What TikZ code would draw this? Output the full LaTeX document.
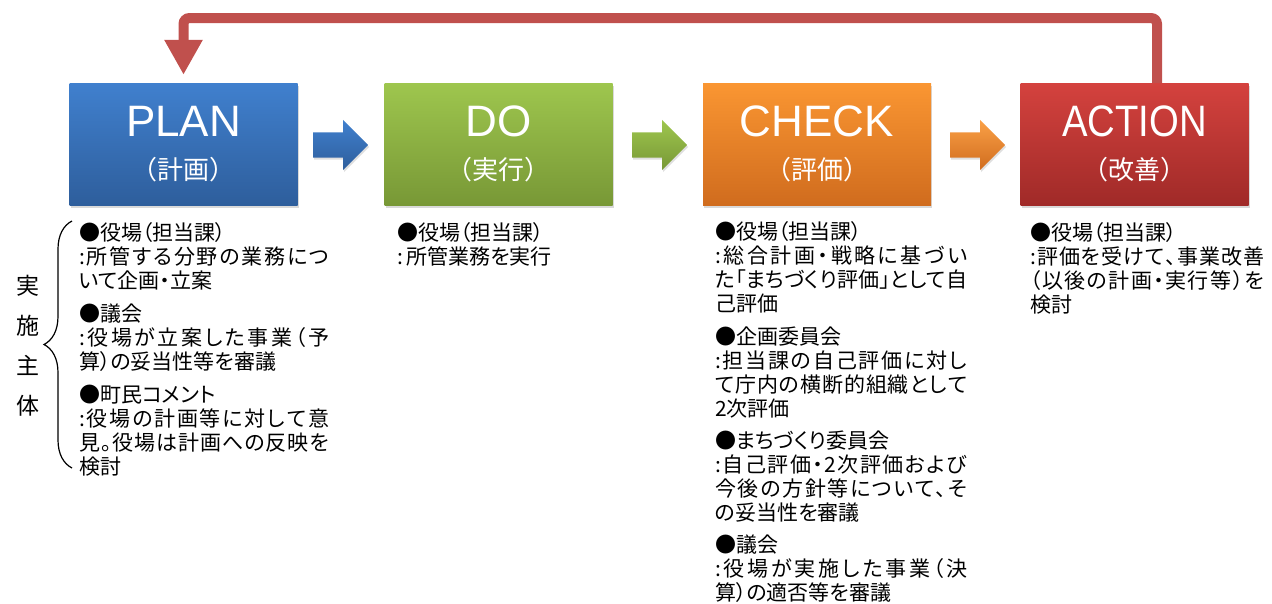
\documentclass[tikz,border=0pt]{standalone}
\usepackage{fontspec}
\setmainfont{Noto Sans CJK JP}
\newfontfamily\titlefont{Liberation Sans}
\newfontfamily\notefont{Noto Sans CJK JP}[RawFeature=+palt]
\usetikzlibrary{shapes.arrows,shadows,arrows.meta,decorations.pathreplacing}
\definecolor{plantop}{RGB}{64,128,206}
\definecolor{planbottom}{RGB}{46,94,156}
\definecolor{dotop}{RGB}{158,198,78}
\definecolor{dobottom}{RGB}{120,152,54}
\definecolor{checktop}{RGB}{250,150,50}
\definecolor{checkbottom}{RGB}{208,108,30}
\definecolor{actiontop}{RGB}{212,66,62}
\definecolor{actionbottom}{RGB}{160,42,40}
\definecolor{loopred}{RGB}{192,80,77}

% justified note lines: spread the characters over the column width
\newlength{\jwidth}
\def\spreadchars#1{\ifx#1\relax\else#1\hfil\expandafter\spreadchars\fi}
\newcommand{\jline}[1]{\hbox to \jwidth{\spreadchars#1\relax\unskip}}
\tikzset{
  phasebox/.style={rectangle, minimum width=228pt, minimum height=122pt, inner sep=0pt,
    align=center, text=white, font=\fontsize{26}{43}\selectfont,
    drop shadow={shadow xshift=1pt, shadow yshift=-3pt, opacity=0.3}},
  blockarrow/.style={single arrow, anchor=tail, minimum width=50pt, minimum height=55pt, inner sep=12.5pt,
    single arrow head extend=12.5pt, drop shadow={shadow xshift=1pt, shadow yshift=-2pt, opacity=0.25}},
  notetext/.style={anchor=north west, inner sep=0pt, align=left,
    font=\notefont\fontsize{21}{24}\selectfont, execute at begin node={\setlength{\jwidth}{#1}}},
  feedback/.style={draw=loopred, line width=10pt, rounded corners=6pt,
    -{Triangle[length=35pt,width=36pt]}, shorten >=8pt}
}
\newcommand{\phasetitle}[2]{{\titlefont\fontsize{44}{44}\selectfont #1}\\#2}

\begin{document}
\begin{tikzpicture}[x=1pt,y=-1pt]
\useasboundingbox (0,0) rectangle (1272,603);

% PDCA boxes
\node[phasebox, top color=plantop, bottom color=planbottom] (plan) at (183.5,144) {\phasetitle{PLAN}{（計画）}};
\node[phasebox, top color=dotop, bottom color=dobottom] (do) at (498.5,144) {\phasetitle{DO}{（実行）}};
\node[phasebox, top color=checktop, bottom color=checkbottom] (check) at (817,144) {\phasetitle{CHECK}{（評価）}};
\node[phasebox, top color=actiontop, bottom color=actionbottom] (action) at (1134.5,144) {\phasetitle{\scalebox{0.87}[1]{ACTION}}{（改善）}};

% arrows between the boxes
\node[blockarrow, top color=plantop, bottom color=planbottom] (plantodo) at (313,145) {};
\node[blockarrow, top color=dotop, bottom color=dobottom] (dotocheck) at (632,145) {};
\node[blockarrow, top color=checktop!90!white, bottom color=checkbottom] (checktoaction) at (950,145) {};

% back to PLAN
\coordinate (loopcorner) at (1157,18);
\draw[feedback] (action.north -| loopcorner) -- (loopcorner) -| (plan.north);

% who does what
\node (actor) at (28,346) [align=center, font=\fontsize{23}{40}\selectfont] {実\\施\\主\\体};
\coordinate (braceBottom) at (72,468);
\coordinate (braceTop) at (72,221);
\draw[decorate, decoration={brace, amplitude=28pt}, line width=1.2pt] (braceBottom) -- (braceTop);

\node[notetext=250pt] (plannote) at (79,222) {●役場（担当課）\\
\jline{:所管する分野の業務につ}\\
いて企画・立案\\[9pt]
●議会\\
\jline{:役場が立案した事業（予}\\
算）の妥当性等を審議\\[9pt]
●町民コメント\\
\jline{:役場の計画等に対して意}\\
\jline{見。役場は計画への反映を}\\
検討};

\node[notetext=250pt] (donote) at (397,222) {●役場（担当課）\\
:\,所管業務を実行};

\node[notetext=252pt] (checknote) at (715,221) {●役場（担当課）\\
\jline{:総合計画・戦略に基づい}\\
\jline{た「まちづくり評価」として自}\\
己評価\\[9pt]
●企画委員会\\
\jline{:担当課の自己評価に対し}\\
\jline{て庁内の横断的組織として}\\
2次評価\\[8pt]
●まちづくり委員会\\
\jline{:自己評価・2次評価および}\\
\jline{今後の方針等について、そ}\\
の妥当性を審議\\[8pt]
●議会\\
\jline{:役場が実施した事業（決}\\
算）の適否等を審議};

\node[notetext=234pt] (actionnote) at (1030,222) {●役場（担当課）\\
\jline{:評価を受けて、事業改善}\\
\jline{（以後の計画・実行等）を}\\
検討};
\end{tikzpicture}
\end{document}
